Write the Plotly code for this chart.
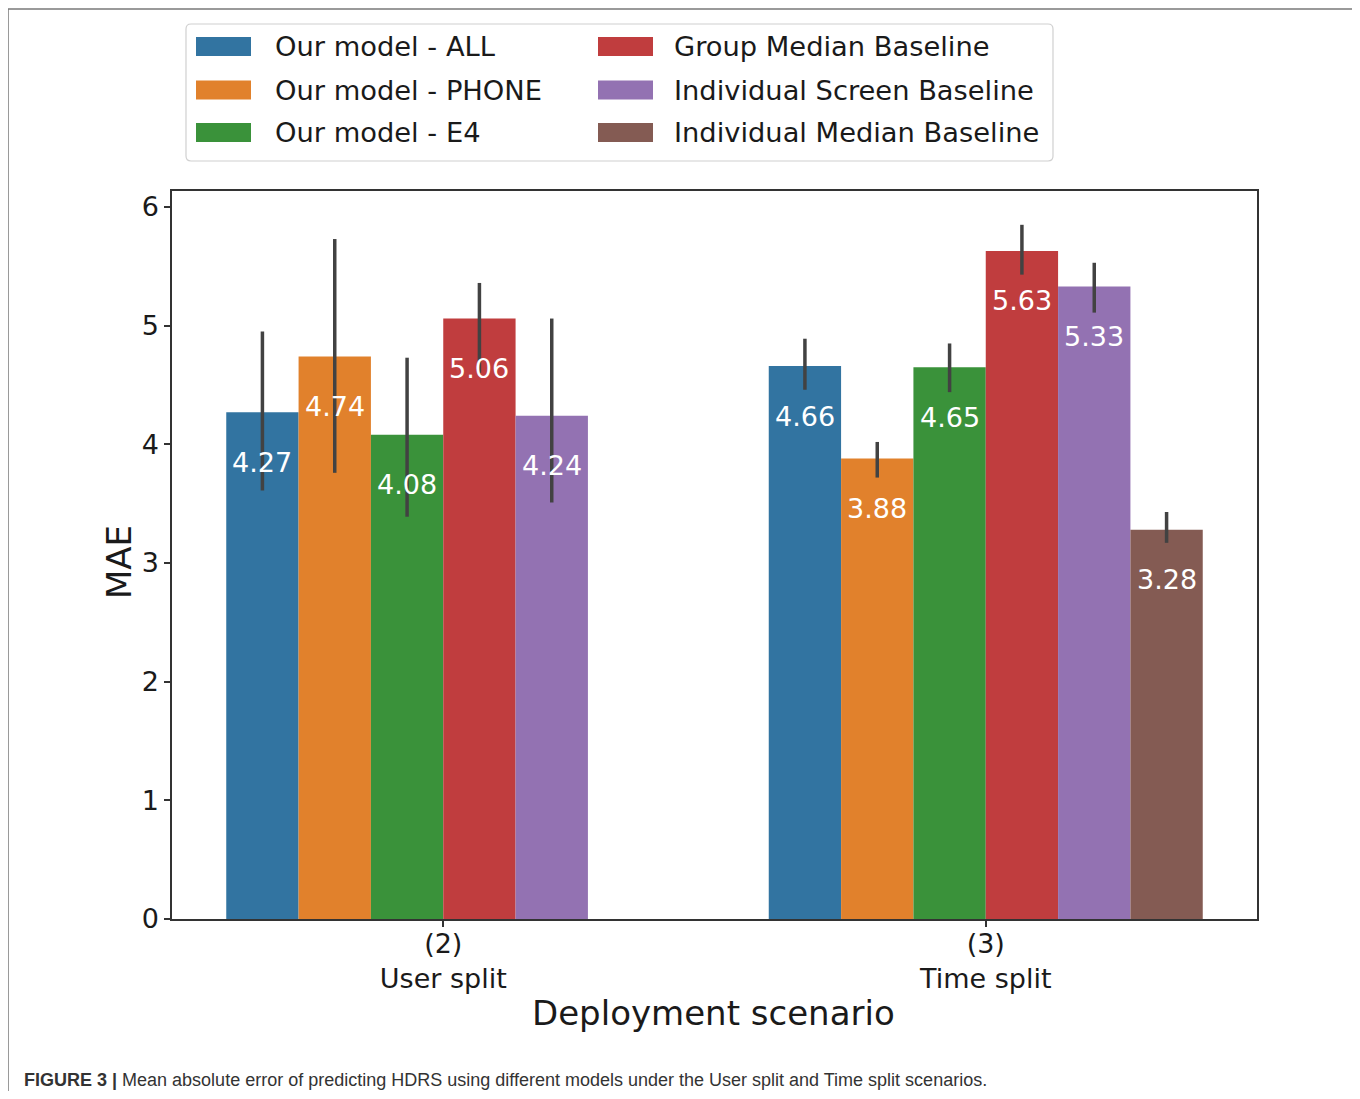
import plotly.graph_objects as go

# ---------------- data ----------------
categories = ["(2)<br>User split", "(3)<br>Time split"]
series_names = ["Our model - ALL", "Our model - PHONE", "Our model - E4",
                "Group Median Baseline", "Individual Screen Baseline",
                "Individual Median Baseline"]
colors = ["#3274A1", "#E1812C", "#3A923A", "#C03D3E", "#9372B2", "#845B53"]

mae_all = [4.27, 4.66]
mae_phone = [4.74, 3.88]
mae_e4 = [4.08, 4.65]
mae_group_median = [5.06, 5.63]
mae_indiv_screen = [4.24, 5.33]
mae_indiv_median = [None, 3.28]

ci_upper_all = [4.95, 4.89]
ci_upper_phone = [5.73, 4.02]
ci_upper_e4 = [4.73, 4.85]
ci_upper_group_median = [5.36, 5.85]
ci_upper_indiv_screen = [5.06, 5.53]
ci_upper_indiv_median = [None, 3.43]

ci_lower_all = [3.61, 4.46]
ci_lower_phone = [3.76, 3.72]
ci_lower_e4 = [3.39, 4.44]
ci_lower_group_median = [4.60, 5.43]
ci_lower_indiv_screen = [3.51, 5.11]
ci_lower_indiv_median = [None, 3.17]

y_ticks = [0, 1, 2, 3, 4, 5, 6]
x_title = "Deployment scenario"
y_title = "MAE"
caption_bold = "FIGURE 3 |"
caption_text = ("Mean absolute error of predicting HDRS using different models "
                "under the User split and Time split scenarios.")

values = [mae_all, mae_phone, mae_e4, mae_group_median, mae_indiv_screen, mae_indiv_median]
uppers = [ci_upper_all, ci_upper_phone, ci_upper_e4, ci_upper_group_median,
          ci_upper_indiv_screen, ci_upper_indiv_median]
lowers = [ci_lower_all, ci_lower_phone, ci_lower_e4, ci_lower_group_median,
          ci_lower_indiv_screen, ci_lower_indiv_median]

# ---------------- layout geometry (screen pixels) ----------------
OFF = 8  # page body margin
WIDTH, HEIGHT = 1360 - OFF, 1099 - 2 * OFF
L, R, T, B = 172, 1257, 191, 919
PW, PH = R - L, B - T


def px2x(p):
    return (p - L) / PW


def px2y(p):
    return (B - p) / PH


FONT = "DejaVu Sans"
TXT = "#1a1a1a"

fig = go.Figure()
n_series = len(series_names)
group_width = 0.8
bar_w = group_width / n_series

annotations = []
for h, (name, col, vals, up, lo) in enumerate(zip(series_names, colors, values, uppers, lowers)):
    plus = [None if v is None else u - v for v, u in zip(vals, up)]
    minus = [None if v is None else v - l for v, l in zip(vals, lo)]
    fig.add_trace(go.Bar(
        x=categories, y=vals, name=name, marker=dict(color=col, line=dict(width=0)),
        error_y=dict(type="data", symmetric=False, array=plus, arrayminus=minus,
                     color="#424242", thickness=3.5, width=0),
        showlegend=False,
    ))
    for i, v in enumerate(vals):
        if v is None:
            continue
        annotations.append(dict(
            x=i - group_width / 2 + bar_w * (h + 0.5), y=v, xref="x", yref="y",
            text=f"{v:.2f}", showarrow=False, yanchor="middle", yshift=-50,
            font=dict(family=FONT, size=27, color="white"),
        ))

# ---------------- custom legend (matplotlib style) ----------------
shapes = []
# outer figure frame
shapes.append(dict(type="rect", xref="paper", yref="paper",
                   x0=px2x(8), x1=px2x(1355.5), y0=px2y(1115), y1=px2y(9),
                   line=dict(color="#7a7a7a", width=1.5), fillcolor="rgba(0,0,0,0)", layer="below"))
# legend box with rounded corners
lx0, lx1, ly0, ly1, rad = 186, 1053, 24, 161, 5
path = (f"M {px2x(lx0 + rad)},{px2y(ly0)} L {px2x(lx1 - rad)},{px2y(ly0)} "
        f"Q {px2x(lx1)},{px2y(ly0)} {px2x(lx1)},{px2y(ly0 + rad)} "
        f"L {px2x(lx1)},{px2y(ly1 - rad)} Q {px2x(lx1)},{px2y(ly1)} {px2x(lx1 - rad)},{px2y(ly1)} "
        f"L {px2x(lx0 + rad)},{px2y(ly1)} Q {px2x(lx0)},{px2y(ly1)} {px2x(lx0)},{px2y(ly1 - rad)} "
        f"L {px2x(lx0)},{px2y(ly0 + rad)} Q {px2x(lx0)},{px2y(ly0)} {px2x(lx0 + rad)},{px2y(ly0)} Z")
shapes.append(dict(type="path", xref="paper", yref="paper", path=path,
                   line=dict(color="#d0d0d0", width=1.2), fillcolor="white"))

row_centers = [46.5, 90, 132.5]
col_patch_x = [196, 598]
col_text_x = [273, 672]
for k, (name, col) in enumerate(zip(series_names, colors)):
    c, r = divmod(k, 3)
    yc = row_centers[r]
    shapes.append(dict(type="rect", xref="paper", yref="paper",
                       x0=px2x(col_patch_x[c]), x1=px2x(col_patch_x[c] + 55),
                       y0=px2y(yc + 9.5), y1=px2y(yc - 9.5),
                       line=dict(width=0), fillcolor=col))
    annotations.append(dict(x=px2x(col_text_x[c]), y=px2y(yc), xref="paper", yref="paper",
                            text=name, showarrow=False, xanchor="left", yanchor="middle",
                            font=dict(family=FONT, size=27.3, color=TXT)))

# y-axis title
annotations.append(dict(x=px2x(119), y=px2y(562), xref="paper", yref="paper",
                        text=y_title, showarrow=False, textangle=-90,
                        xanchor="center", yanchor="middle",
                        font=dict(family=FONT, size=34, color=TXT)))
# x-axis title
annotations.append(dict(x=px2x(713), y=px2y(1013), xref="paper", yref="paper",
                        text=x_title, showarrow=False, xanchor="center", yanchor="middle",
                        font=dict(family=FONT, size=34, color=TXT)))
# caption
annotations.append(dict(x=px2x(22), y=px2y(1080), xref="paper", yref="paper",
                        text=f"<b>{caption_bold}</b> {caption_text}", showarrow=False,
                        xanchor="left", yanchor="middle",
                        font=dict(family="Liberation Sans", size=18, color="#333333")))

fig.update_layout(
    width=WIDTH, height=HEIGHT,
    margin=dict(l=L - OFF, r=WIDTH - (R - OFF), t=T - OFF, b=HEIGHT - (B - OFF), autoexpand=False),
    paper_bgcolor="white", plot_bgcolor="white",
    barmode="group", bargap=0.2, bargroupgap=0,
    showlegend=False,
    shapes=shapes, annotations=annotations,
    xaxis=dict(type="category", range=[-0.5, 1.5], showgrid=False, zeroline=False,
               showline=True, mirror=True, linecolor="#333333", linewidth=1.5,
               ticks="outside", ticklen=6, tickwidth=1.5, tickcolor="#333333",
               ticklabelstandoff=-6,
               tickfont=dict(family=FONT, size=27, color=TXT)),
    yaxis=dict(range=[0, (B - T) / ((B - 207) / 6)], tickvals=y_ticks,
               showgrid=False, zeroline=False,
               showline=True, mirror=True, linecolor="#333333", linewidth=1.5,
               ticks="outside", ticklen=6, tickwidth=1.5, tickcolor="#333333",
               tickfont=dict(family=FONT, size=27, color=TXT)),
)

fig.write_html("out.html")
